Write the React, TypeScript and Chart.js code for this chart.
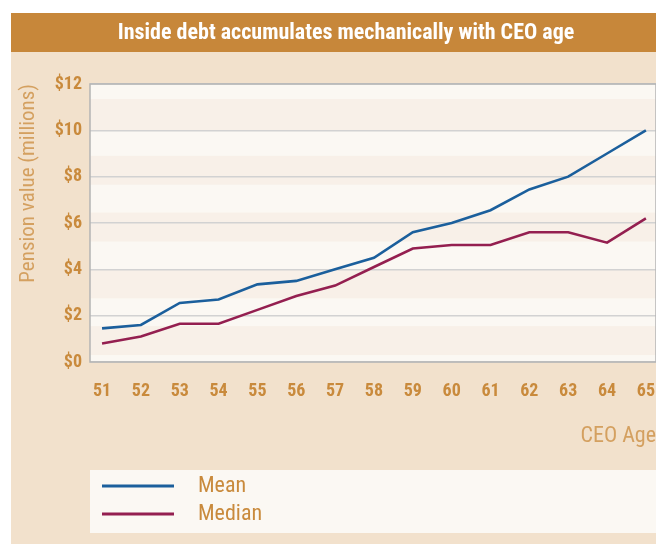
import React, { useEffect, useRef } from "react";
import { Chart, registerables } from "chart.js";

Chart.register(...registerables);

const TITLE = "Inside debt accumulates mechanically with CEO age";
const Y_TITLE = "Pension value (millions)";
const X_TITLE = "CEO Age";

const ages = [51, 52, 53, 54, 55, 56, 57, 58, 59, 60, 61, 62, 63, 64, 65];
const meanValues = [1.45, 1.6, 2.55, 2.7, 3.35, 3.5, 4.0, 4.5, 5.6, 6.0, 6.55, 7.45, 8.0, 9.0, 10.0];
const medianValues = [0.8, 1.1, 1.65, 1.65, 2.25, 2.85, 3.3, 4.1, 4.9, 5.05, 5.05, 5.6, 5.6, 5.15, 6.2];
const seriesLabels = ["Mean", "Median"];
const yTicks = [0, 2, 4, 6, 8, 10, 12];
const stripeBands = [
  [0.3, 1.55],
  [2.75, 4.0],
  [5.2, 6.45],
  [7.65, 8.9],
  [10.0, 11.35],
];

const FONT = '"Roboto Condensed", "Open Sans Condensed", sans-serif';
const BEIGE = "#f2e1cc";
const BAR = "#c7873a";
const PLOT = "#fbf8f3";
const STRIPE = "#f8f0e8";
const TICK = "#c98a3c";
const AXIS_TITLE = "#d4a060";
const MEAN = "#1b5f9c";
const MEDIAN = "#941f50";

export default function App() {
  const ref = useRef<HTMLCanvasElement>(null);

  useEffect(() => {
    if (!ref.current) return;

    const decor = {
      id: "decor",
      beforeDraw(chart: any) {
        const { ctx, width, height, chartArea: a, scales } = chart;
        const y = scales.y;
        ctx.save();
        ctx.fillStyle = "#ffffff";
        ctx.fillRect(0, 0, width, height);
        ctx.fillStyle = BEIGE;
        ctx.fillRect(3, 5, width - 3, height - 5);
        ctx.fillStyle = BAR;
        ctx.fillRect(3, 5, width - 3, 39);
        ctx.fillStyle = "#ffffff";
        ctx.font = `bold 22px ${FONT}`;
        ctx.textAlign = "center";
        ctx.textBaseline = "middle";
        ctx.fillText(TITLE, 338, 25);
        ctx.fillStyle = PLOT;
        ctx.fillRect(a.left, a.top, a.right - a.left, a.bottom - a.top);
        ctx.fillStyle = STRIPE;
        stripeBands.forEach(([lo, hi]) => {
          const y1 = y.getPixelForValue(hi);
          const y0 = y.getPixelForValue(lo);
          ctx.fillRect(a.left, y1, a.right - a.left, y0 - y1);
        });
        ctx.restore();
      },
      beforeDatasetsDraw(chart: any) {
        const { ctx, chartArea: a } = chart;
        ctx.save();
        ctx.strokeStyle = "#b4b4b4";
        ctx.lineWidth = 1.5;
        ctx.strokeRect(a.left, a.top, a.right - a.left, a.bottom - a.top);
        ctx.restore();
      },
      afterDraw(chart: any) {
        const { ctx, chartArea: a } = chart;
        ctx.save();
        const boxTop = 462;
        ctx.fillStyle = PLOT;
        ctx.fillRect(a.left, boxTop, a.right - a.left + 1, 63);
        chart.data.datasets.forEach((ds: any, i: number) => {
          const ly = boxTop + 16 + i * 28;
          ctx.strokeStyle = ds.borderColor;
          ctx.lineWidth = 3;
          ctx.beginPath();
          ctx.moveTo(a.left + 12, ly);
          ctx.lineTo(a.left + 84, ly);
          ctx.stroke();
          ctx.fillStyle = TICK;
          ctx.font = `22px ${FONT}`;
          ctx.textAlign = "left";
          ctx.textBaseline = "middle";
          ctx.fillText(ds.label, a.left + 108, ly);
        });
        ctx.restore();
      },
    };

    const chart = new Chart(ref.current, {
      type: "line",
      data: {
        datasets: [
          {
            label: seriesLabels[0],
            data: ages.map((a, i) => ({ x: a, y: meanValues[i] })),
            borderColor: MEAN,
            borderWidth: 2.6,
            pointRadius: 0,
            tension: 0,
          },
          {
            label: seriesLabels[1],
            data: ages.map((a, i) => ({ x: a, y: medianValues[i] })),
            borderColor: MEDIAN,
            borderWidth: 2.6,
            pointRadius: 0,
            tension: 0,
          },
        ],
      },
      plugins: [decor],
      options: {
        responsive: false,
        animation: false,
        layout: { padding: { left: 8, right: 8, top: 76, bottom: 94 } },
        plugins: {
          legend: { display: false },
          title: { display: false },
          tooltip: { enabled: false },
        },
        scales: {
          x: {
            type: "linear",
            min: ages[0] - 0.31,
            max: ages[ages.length - 1] + 0.26,
            afterFit: (s: any) => {
              s.height = 88;
              s.paddingLeft = 0;
              s.paddingRight = 0;
            },
            afterBuildTicks: (s: any) => {
              s.ticks = ages.map((v) => ({ value: v }));
            },
            ticks: {
              color: TICK,
              font: { family: FONT, size: 18, weight: "bold" },
              padding: 19,
              maxRotation: 0,
              autoSkip: false,
              callback: (v: any) => String(v),
            },
            grid: { display: false, drawTicks: false },
            border: { display: false },
            title: {
              display: true,
              text: X_TITLE,
              align: "end",
              color: AXIS_TITLE,
              font: { family: FONT, size: 22 },
              padding: 0,
            },
          },
          y: {
            min: 0,
            max: 12,
            afterFit: (s: any) => {
              s.width = 74;
              s.paddingTop = 0;
              s.paddingBottom = 0;
            },
            afterBuildTicks: (s: any) => {
              s.ticks = yTicks.map((v) => ({ value: v }));
            },
            ticks: {
              color: TICK,
              font: { family: FONT, size: 18, weight: "bold" },
              padding: 8,
              callback: (v: any) => "$" + v,
            },
            grid: { color: "#d2d2d2", lineWidth: 1.5, drawTicks: false },
            border: { display: false },
            title: {
              display: true,
              text: Y_TITLE,
              align: "end",
              color: AXIS_TITLE,
              font: { family: FONT, size: 21 },
              padding: 0,
            },
          },
        },
      },
    } as any);

    return () => chart.destroy();
  }, []);

  return (
    <div style={{ width: 656, height: 536 }}>
      <canvas ref={ref} width={656} height={536} style={{ display: "block" }} />
    </div>
  );
}
